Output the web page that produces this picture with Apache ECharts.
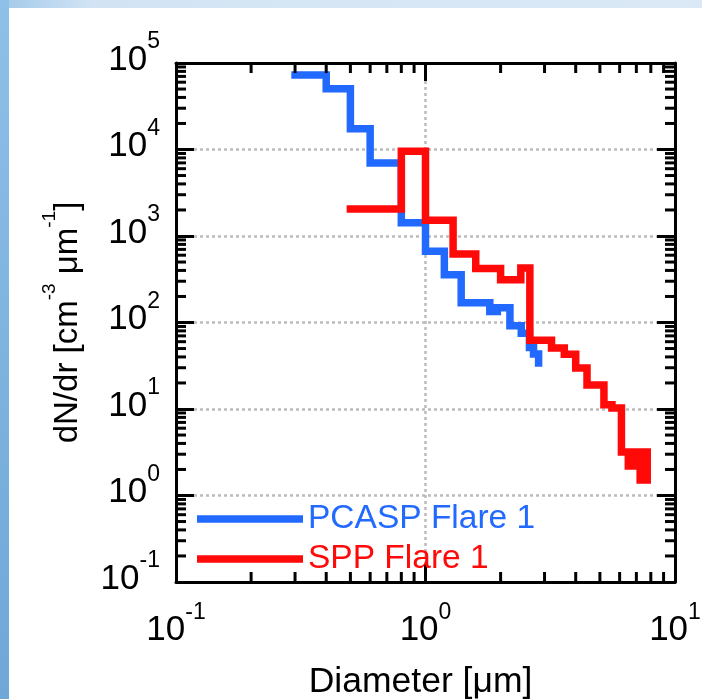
<!DOCTYPE html>
<html>
<head>
<meta charset="utf-8">
<script src="https://cdn.jsdelivr.net/npm/echarts@6/dist/echarts.min.js"></script>
<style>
html,body{margin:0;padding:0;background:#fff;}
#chart{width:702px;height:699px;}
</style>
</head>
<body>
<div id="chart"></div>
<script>
// ---- data ----
const pcaspDiameter = [0.3, 0.4, 0.5, 0.6, 0.8, 1.0, 1.19, 1.39, 1.81, 1.94, 2.18, 2.42, 2.61, 2.71, 2.84];
const pcaspDNdr     = [72600, 50500, 17400, 6980, 1420, 665, 357, 169, 134, 148, 92, 75, 51.4, 43.2, 34];

const sppDiameter = [0.5, 0.8, 1.0, 1.29, 1.59, 2.0, 2.41, 2.62, 3.2, 3.6, 4.0, 4.44, 5.19, 5.59, 6.1, 7.74, 7.25, 6.5, 7.74];
const sppDNdr     = [2050, 9530, 1517, 620, 421, 312, 426, 62.4, 50.7, 43, 29.8, 18.9, 11.2, 10.3, 3.19, 1.51, 2.19, 2.64, 2.64];

const seriesNames = ['PCASP Flare 1', 'SPP Flare 1'];
const xLabel = 'Diameter [μm]';
const yLabelRich = '{n|dN/dr [cm}{s|-3}{n| μm}{s|-1}{n|]}';

const xRange = [0.1, 10];
const yRange = [0.1, 1e5];
const minorMultipliers = [2, 3, 4, 5, 6, 7, 8, 9];
const xDecades = [-1, 0];
const yDecades = [-1, 0, 1, 2, 3, 4];

// ---- styling ----
const FONT = 'Liberation Sans, Arial, sans-serif';
const BLUE = '#2169ff';
const RED = '#ff0909';

const toPairs = (xs, ys) => xs.map((x, i) => [x, ys[i]]);

const minorTicks = [];
xDecades.forEach(k => minorMultipliers.forEach(m => minorTicks.push([m * Math.pow(10, k), yRange[0], 0])));
yDecades.forEach(k => minorMultipliers.forEach(m => minorTicks.push([xRange[0], m * Math.pow(10, k), 1])));

const expFormatter = v => {
  const e = Math.round(Math.log10(v));
  return '{b|10}{e|' + e + '}';
};
const tickRich = {
  b: {fontSize: 35, lineHeight: 59, verticalAlign: 'middle', fontFamily: FONT, color: '#000'},
  e: {fontSize: 23, lineHeight: 20, verticalAlign: 'top', fontFamily: FONT, color: '#000'}
};
const axisLineStyle = {show: true, lineStyle: {color: '#000', width: 3}};
const majorTick = {show: true, inside: true, length: 18, lineStyle: {color: '#000', width: 3}};
const gridLine = {show: true, lineStyle: {color: '#bcbcbc', width: 2.5, type: [3, 3]}};

const chart = echarts.init(document.getElementById('chart'), null, {renderer: 'canvas'});

chart.setOption({
  backgroundColor: '#ffffff',
  animation: false,
  graphic: [
    {type: 'rect', z: -10, shape: {x: 0, y: 0, width: 9, height: 699},
     style: {fill: new echarts.graphic.LinearGradient(0, 0, 0, 1, [{offset: 0, color: '#8ec0e8'}, {offset: 1, color: '#6fa7d8'}])}},
    {type: 'rect', z: -10, shape: {x: 9, y: 0, width: 693, height: 8},
     style: {fill: new echarts.graphic.LinearGradient(0, 0, 1, 0, [{offset: 0, color: '#a6cbea'}, {offset: 0.12, color: '#d2e4f4'}, {offset: 1, color: '#dbe9f6'}])}}
  ],
  grid: {left: 176, right: 27, top: 63, bottom: 117, containLabel: false, outerBoundsMode: 'none'},
  legend: {
    orient: 'vertical', left: 197, top: 502, padding: 0,
    itemWidth: 106, itemHeight: 7.5, itemGap: 6, icon: 'rect',
    selectedMode: false,
    textStyle: {fontSize: 33.5, lineHeight: 34, fontFamily: FONT},
    data: [
      {name: seriesNames[0], textStyle: {color: BLUE}},
      {name: seriesNames[1], textStyle: {color: RED}}
    ]
  },
  xAxis: [
    {type: 'log', logBase: 10, min: xRange[0], max: xRange[1], position: 'bottom',
     name: xLabel, nameLocation: 'middle', nameGap: 82, nameMoveOverlap: false,
     nameTextStyle: {fontSize: 35.5, lineHeight: 36, fontFamily: FONT, color: '#000', padding: [0, 10, 0, 0]},
     axisLine: axisLineStyle, axisTick: majorTick, splitLine: gridLine,
     axisLabel: {formatter: expFormatter, rich: tickRich, margin: 19}},
    {type: 'log', logBase: 10, min: xRange[0], max: xRange[1], position: 'top',
     axisLine: axisLineStyle, axisTick: majorTick, splitLine: {show: false}, axisLabel: {show: false}}
  ],
  yAxis: [
    {type: 'log', logBase: 10, min: yRange[0], max: yRange[1], position: 'left', splitNumber: 6,
     name: yLabelRich, nameLocation: 'middle', nameGap: 80, nameRotate: 90, nameMoveOverlap: false,
     nameTextStyle: {rich: {
       n: {fontSize: 33, lineHeight: 56, verticalAlign: 'middle', fontFamily: FONT, color: '#000'},
       s: {fontSize: 19, lineHeight: 18, verticalAlign: 'top', fontFamily: FONT, color: '#000'}
     }},
     axisLine: axisLineStyle, axisTick: majorTick, splitLine: gridLine,
     axisLabel: {formatter: expFormatter, rich: tickRich, margin: 16, padding: [0, 0, 6, 0]}},
    {type: 'log', logBase: 10, min: yRange[0], max: yRange[1], position: 'right', splitNumber: 6,
     axisLine: axisLineStyle, axisTick: majorTick, splitLine: {show: false}, axisLabel: {show: false}}
  ],
  series: [
    {name: seriesNames[0], type: 'line', step: 'end', xAxisIndex: 0, yAxisIndex: 0,
     data: toPairs(pcaspDiameter, pcaspDNdr), showSymbol: false, symbol: 'none', color: BLUE,
     lineStyle: {color: BLUE, width: 7.5, cap: 'square', join: 'miter'}, z: 3},
    {name: seriesNames[1], type: 'line', step: 'end', xAxisIndex: 0, yAxisIndex: 0,
     data: toPairs(sppDiameter, sppDNdr), showSymbol: false, symbol: 'none', color: RED,
     lineStyle: {color: RED, width: 7.5, cap: 'square', join: 'miter'}, z: 4},
    {name: 'minorTicks', type: 'custom', xAxisIndex: 0, yAxisIndex: 0, silent: true, clip: false, z: 6,
     encode: {x: 0, y: 1}, data: minorTicks,
     renderItem: (params, api) => {
       const cs = params.coordSys;
       const p = api.coord([api.value(0), api.value(1)]);
       const L = 10;
       const style = {stroke: '#000', lineWidth: 3};
       if (api.value(2) === 0) {
         return {type: 'group', children: [
           {type: 'line', shape: {x1: p[0], y1: cs.y + cs.height, x2: p[0], y2: cs.y + cs.height - L}, style},
           {type: 'line', shape: {x1: p[0], y1: cs.y, x2: p[0], y2: cs.y + L}, style}
         ]};
       }
       return {type: 'group', children: [
         {type: 'line', shape: {x1: cs.x, y1: p[1], x2: cs.x + L, y2: p[1]}, style},
         {type: 'line', shape: {x1: cs.x + cs.width, y1: p[1], x2: cs.x + cs.width - L, y2: p[1]}, style}
       ]};
     }}
  ]
});
</script>
</body>
</html>
